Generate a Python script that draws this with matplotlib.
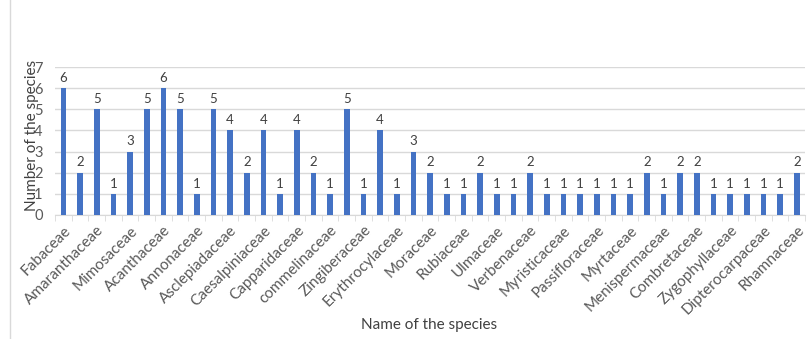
import matplotlib.pyplot as plt
from matplotlib.patches import Rectangle
import numpy as np

plt.rcParams['font.family'] = ['Lato', 'DejaVu Sans']

# species count per family (45 families, every second one is labelled on the axis)
counts = [6, 2, 5, 1, 3, 5, 6, 5, 1, 5, 4, 2, 4, 1, 4, 2, 1, 5, 1, 4, 1, 3, 2,
          1, 1, 2, 1, 1, 2, 1, 1, 1, 1, 1, 1, 2, 1, 2, 2, 1, 1, 1, 1, 1, 2]
shown_labels = ['Fabaceae', 'Amaranthaceae', 'Mimosaceae', 'Acanthaceae',
                'Annonaceae', 'Asclepiadaceae', 'Caesalpiniaceae', 'Capparidaceae',
                'commelinaceae', 'Zingiberaceae', 'Erythrocylaceae', 'Moraceae',
                'Rubiaceae', 'Ulmaceae', 'Verbenaceae', 'Myristicaceae',
                'Passifloraceae', 'Myrtaceae', 'Menispermaceae', 'Combretaceae',
                'Zygophyllaceae', 'Dipterocarpaceae', 'Rhamnaceae']
y_ticks = [0, 1, 2, 3, 4, 5, 6, 7]

grey = '#595959'
fig = plt.figure(figsize=(8.1, 3.39), dpi=100)
ax = fig.add_axes([0.068, 0.366, 0.926, 0.436])

# chart frame
fig.patches.append(Rectangle((0.012, -0.01), 0.99, 1.05, transform=fig.transFigure,
                             fill=False, edgecolor='#d9d9d9', linewidth=1))

x = np.arange(len(counts))
bars = ax.bar(x, counts, width=0.33, color='#4472c4', zorder=3)
for xi, v in zip(x, counts):
    ax.text(xi, v + 0.2, str(v), ha='center', va='bottom', fontsize=9.5, color='#404040')

ax.set_xlim(-0.5, len(counts) - 0.5)
ax.set_ylim(0, 7)
ax.set_yticks(y_ticks)
ax.tick_params(axis='y', length=0, labelsize=10.5, labelcolor=grey, pad=9)
ax.grid(axis='y', color='#d9d9d9', linewidth=1, zorder=0)

ax.set_xticks(x[::2])
ax.set_xticklabels(shown_labels, rotation=45, ha='right', rotation_mode='anchor',
                   fontsize=11, color=grey)
ax.set_xticks(np.arange(-0.5, len(counts)), minor=True)
ax.tick_params(axis='x', which='major', length=0, pad=6)
ax.tick_params(axis='x', which='minor', length=4, color='#d9d9d9')

for s in ['top', 'right', 'left']:
    ax.spines[s].set_visible(False)
ax.spines['bottom'].set_color('#d9d9d9')

ax.set_ylabel('Number of the species', fontsize=11, color='#404040')
ax.yaxis.set_label_coords(-0.022, 0.54)
fig.text(0.53, 0.04, 'Name of the species', ha='center', va='center',
         fontsize=11, color='#404040')

fig.savefig('out.png', dpi=100)
